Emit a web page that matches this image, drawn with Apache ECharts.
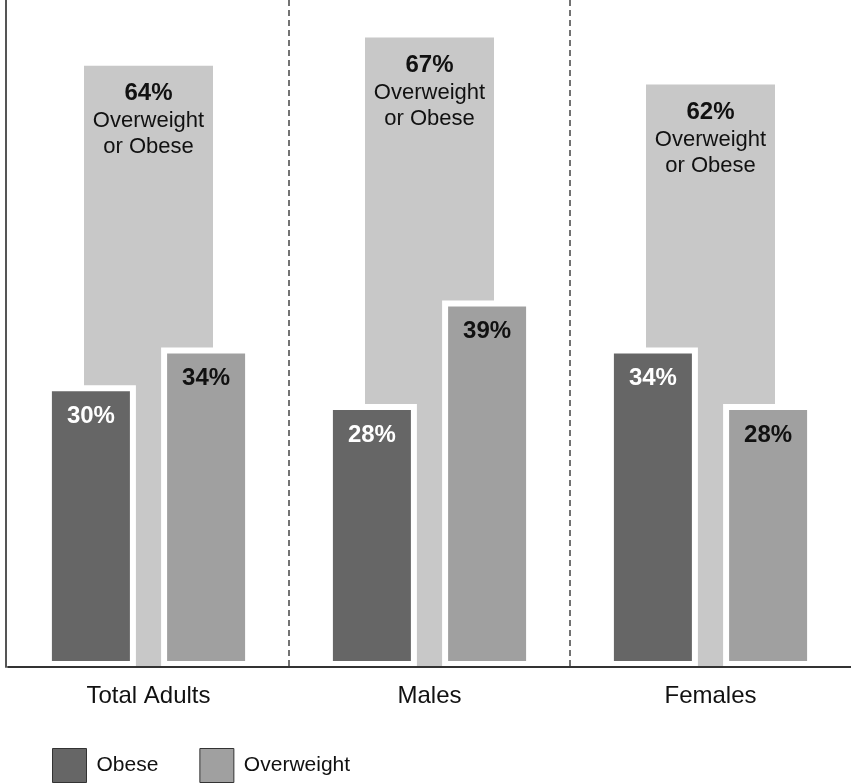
<!DOCTYPE html>
<html>
<head>
<meta charset="utf-8">
<script src="https://cdn.jsdelivr.net/npm/echarts@6/dist/echarts.min.js"></script>
<style>
  html, body { margin: 0; padding: 0; background: #fff; }
  #chart { width: 851px; height: 783px; }
</style>
</head>
<body>
<div id="chart"></div>
<script>
const categories = ['Total Adults', 'Males', 'Females'];
const combined = [64, 67, 62];
const obese = [30, 28, 34];
const overweight = [34, 39, 28];

const FONT = '"Liberation Sans", Arial, Helvetica, sans-serif';

const chart = echarts.init(document.getElementById('chart'));

chart.setOption({
  animation: false,
  textStyle: { fontFamily: FONT },
  grid: { left: 8, right: 0, top: 0, bottom: 116 },
  legend: {
    data: ['Obese', 'Overweight'],
    left: 47,
    top: 743,
    itemWidth: 34,
    itemHeight: 34,
    itemGap: 41,
    icon: 'rect',
    itemStyle: { borderColor: '#333', borderWidth: 1 },
    textStyle: { fontSize: 21, color: '#111', fontFamily: FONT, padding: [6, 0, 0, 5] }
  },
  xAxis: [
    {
      type: 'category',
      data: categories,
      z: 10,
      axisLine: { lineStyle: { color: '#333', width: 2 } },
      axisTick: { show: false },
      axisLabel: { fontSize: 24, color: '#111', margin: 17, fontFamily: FONT },
      splitLine: {
        show: true,
        showMinLine: false,
        showMaxLine: false,
        lineStyle: { color: '#444', type: [6, 4], width: 1.5 }
      }
    },
    {
      type: 'category',
      data: categories,
      show: false
    }
  ],
  yAxis: {
    type: 'value',
    min: 0,
    max: 71,
    z: 10,
    offset: 2,
    axisLine: { show: true, lineStyle: { color: '#555', width: 2 } },
    axisTick: { show: false },
    axisLabel: { show: false },
    splitLine: { show: false }
  },
  series: [
    {
      name: 'Overweight or Obese',
      type: 'bar',
      xAxisIndex: 0,
      data: combined,
      barWidth: 129,
      itemStyle: { color: '#c8c8c8' },
      label: {
        show: true,
        position: 'insideTop',
        distance: 14,
        formatter: p => '{a|' + p.value + '%}\n{b|Overweight}\n{b|or Obese}',
        rich: {
          a: { fontSize: 24, fontWeight: 'bold', color: '#111', lineHeight: 28, fontFamily: FONT },
          b: { fontSize: 22, color: '#111', lineHeight: 26, fontFamily: FONT }
        }
      },
      z: 1
    },
    {
      name: 'Obese',
      type: 'bar',
      xAxisIndex: 1,
      data: obese,
      barWidth: 90,
      barGap: '28%',
      itemStyle: { color: '#666666', borderColor: '#fff', borderWidth: 6 },
      label: {
        show: true,
        position: 'insideTop',
        distance: 19,
        formatter: '{c}%',
        color: '#fff',
        fontSize: 24,
        fontWeight: 'bold',
        fontFamily: FONT
      },
      z: 3
    },
    {
      name: 'Overweight',
      type: 'bar',
      xAxisIndex: 1,
      data: overweight,
      barWidth: 90,
      itemStyle: { color: '#a0a0a0', borderColor: '#fff', borderWidth: 6 },
      label: {
        show: true,
        position: 'insideTop',
        distance: 19,
        formatter: '{c}%',
        color: '#111',
        fontSize: 24,
        fontWeight: 'bold',
        fontFamily: FONT
      },
      z: 3
    }
  ]
});
</script>
</body>
</html>
